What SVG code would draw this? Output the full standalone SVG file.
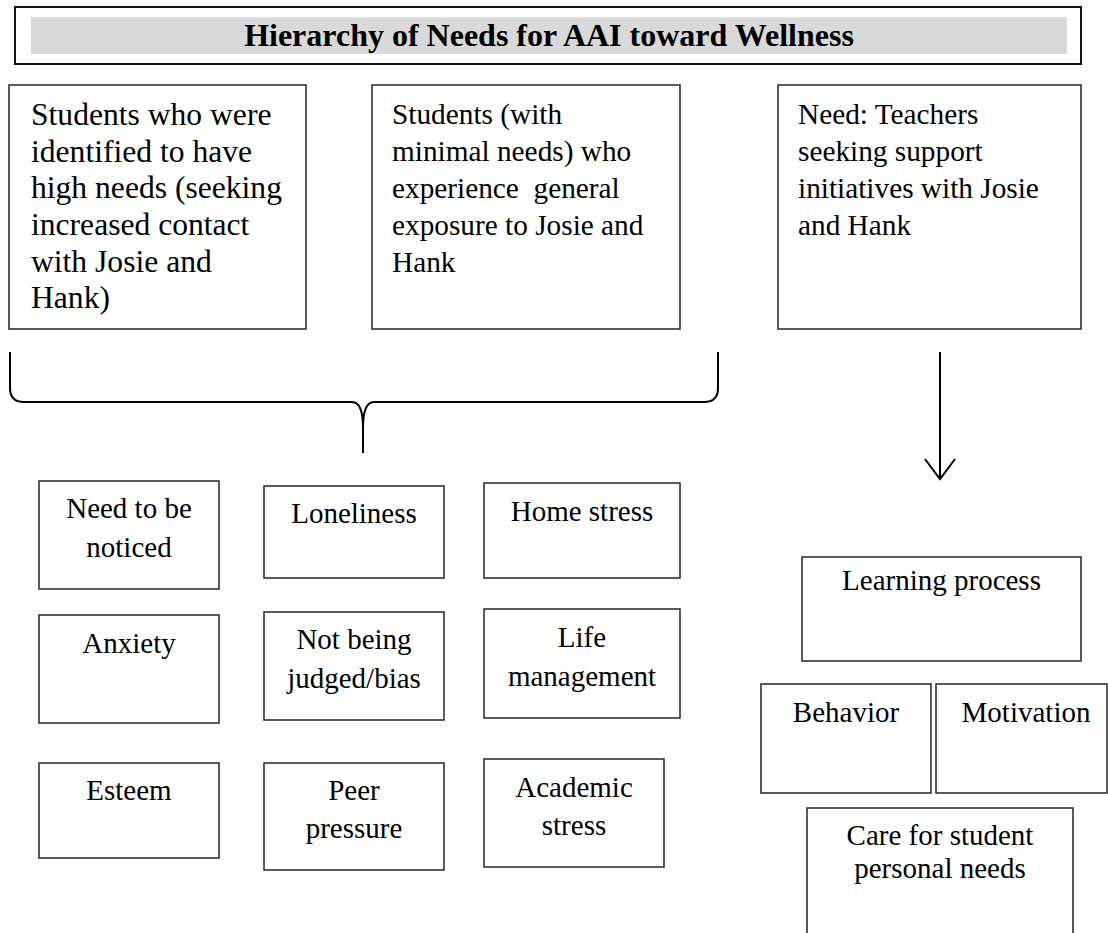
<svg xmlns="http://www.w3.org/2000/svg" width="1108" height="933" viewBox="0 0 1108 933">
<style>
.box{fill:#fff;stroke:#333;stroke-width:1.6}
.t{font-family:"Liberation Serif","Times New Roman",serif;fill:#000}
.tb{font-size:29.3px}
.tb1{font-size:31.6px}
.g{font-size:29px;text-anchor:middle}
.ln{fill:none;stroke:#000;stroke-width:2}
</style>
<rect width="1108" height="933" fill="#fff"/>
<g id="title">
<rect x="15" y="7" width="1066" height="57" fill="#fff" stroke="#111" stroke-width="2"/>
<rect x="31" y="17" width="1036" height="37" fill="#d9d9d9"/>
<text class="t" x="549" y="46" font-size="32" font-weight="bold" text-anchor="middle">Hierarchy of Needs for AAI toward Wellness</text>
</g>
<g id="high-needs">
<rect class="box" x="9" y="85" width="297" height="244"/>
<text class="t tb1" x="31"><tspan x="31" y="125">Students who were</tspan><tspan x="31" y="161.7">identified to have</tspan><tspan x="31" y="198.3">high needs (seeking</tspan><tspan x="31" y="235">increased contact</tspan><tspan x="31" y="271.7">with Josie and</tspan><tspan x="31" y="308.3">Hank)</tspan></text>
</g>
<g id="minimal-needs">
<rect class="box" x="372" y="85" width="308" height="244"/>
<text class="t tb" xml:space="preserve"><tspan x="392" y="124">Students (with</tspan><tspan x="392" y="161">minimal needs) who</tspan><tspan x="392" y="198">experience  general</tspan><tspan x="392" y="235">exposure to Josie and</tspan><tspan x="392" y="272">Hank</tspan></text>
</g>
<g id="teachers">
<rect class="box" x="778" y="85" width="303" height="244"/>
<text class="t tb"><tspan x="798" y="124">Need: Teachers</tspan><tspan x="798" y="161">seeking support</tspan><tspan x="798" y="198">initiatives with Josie</tspan><tspan x="798" y="235">and Hank</tspan></text>
</g>
<g id="connectors">
<path class="ln" d="M10,352 L10,388 Q10,402 24,402 L352,402 Q363,402 363,428 L363,453 M363,428 Q363,402 374,402 L704,402 Q718,402 718,388 L718,352"/>
<path class="ln" d="M940,352 L940,479 M925,459 L940,479 L955,459"/>
</g>
<g id="need-noticed">
<rect class="box" x="39" y="481" width="180" height="108"/>
<text class="t g"><tspan x="129" y="518">Need to be</tspan><tspan x="129" y="557">noticed</tspan></text>
</g>
<g id="loneliness">
<rect class="box" x="264" y="486" width="180" height="92"/>
<text class="t g" x="354" y="523">Loneliness</text>
</g>
<g id="home-stress">
<rect class="box" x="484" y="483" width="196" height="95"/>
<text class="t g" x="582" y="521">Home stress</text>
</g>
<g id="anxiety">
<rect class="box" x="39" y="615" width="180" height="108"/>
<text class="t g" x="129" y="653">Anxiety</text>
</g>
<g id="not-judged">
<rect class="box" x="264" y="612" width="180" height="108"/>
<text class="t g"><tspan x="354" y="649">Not being</tspan><tspan x="354" y="688">judged/bias</tspan></text>
</g>
<g id="life-management">
<rect class="box" x="484" y="609" width="196" height="109"/>
<text class="t g"><tspan x="582" y="647">Life</tspan><tspan x="582" y="686">management</tspan></text>
</g>
<g id="esteem">
<rect class="box" x="39" y="763" width="180" height="95"/>
<text class="t g" x="129" y="800">Esteem</text>
</g>
<g id="peer-pressure">
<rect class="box" x="264" y="763" width="180" height="107"/>
<text class="t g"><tspan x="354" y="800">Peer</tspan><tspan x="354" y="838">pressure</tspan></text>
</g>
<g id="academic-stress">
<rect class="box" x="484" y="759" width="180" height="108"/>
<text class="t g"><tspan x="574" y="797">Academic</tspan><tspan x="574" y="835">stress</tspan></text>
</g>
<g id="learning-process">
<rect class="box" x="802" y="557" width="279" height="104"/>
<text class="t g" x="941.5" y="590">Learning process</text>
</g>
<g id="behavior">
<rect class="box" x="761" y="684" width="170" height="109"/>
<text class="t g" x="846" y="722">Behavior</text>
</g>
<g id="motivation">
<rect class="box" x="936" y="684" width="171" height="109"/>
<text class="t g" x="1026" y="722">Motivation</text>
</g>
<g id="care">
<rect class="box" x="807" y="808" width="266" height="140"/>
<text class="t g"><tspan x="940" y="845">Care for student</tspan><tspan x="940" y="878">personal needs</tspan></text>
</g>
</svg>
